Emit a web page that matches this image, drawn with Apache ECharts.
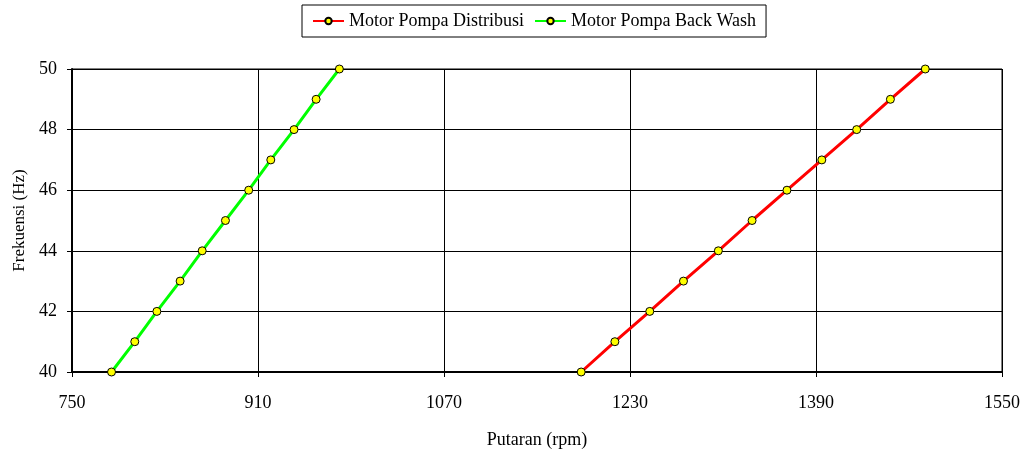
<!DOCTYPE html>
<html>
<head>
<meta charset="utf-8">
<script src="https://cdn.jsdelivr.net/npm/echarts@6/dist/echarts.min.js"></script>
<style>
  html, body { margin: 0; padding: 0; background: #fff; }
  #chart { width: 1029px; height: 454px; }
</style>
</head>
<body>
<div id="chart"></div>
<script>
// frekuensi (Hz) vs putaran (rpm)
const frekuensi = [40, 41, 42, 43, 44, 45, 46, 47, 48, 49, 50];
const rpmDistribusi = [1188, 1217, 1247, 1276, 1306, 1335, 1365, 1395, 1425, 1454, 1484];
const rpmBackWash = [784, 804, 823, 843, 862, 882, 902, 921, 941, 960, 980];
const namaSeri = ['Motor Pompa Distribusi', 'Motor Pompa Back Wash'];

const font = 'Liberation Serif';

function pasang(xs, ys) {
  return xs.map((x, i) => [x, ys[i]]);
}

let mychart = echarts.init(document.getElementById('chart'));

let option = {
  animation: false,
  textStyle: { fontFamily: font },
  legend: {
    top: 5,
    left: 302,
    data: namaSeri,
    borderColor: '#000',
    borderWidth: 1,
    borderRadius: 0,
    padding: [7, 10, 7, 10],
    itemGap: 10,
    itemWidth: 31,
    itemHeight: 8,
    textStyle: { fontFamily: font, fontSize: 18, color: '#000' }
  },
  grid: {
    left: 72,
    right: 27,
    top: 69,
    bottom: 82,
    show: true,
    borderColor: '#000',
    borderWidth: 1
  },
  xAxis: {
    type: 'value',
    min: 750,
    max: 1550,
    interval: 160,
    name: 'Putaran (rpm)',
    nameLocation: 'middle',
    nameGap: 59,
    nameTextStyle: { fontFamily: font, fontSize: 18, color: '#000' },
    axisLine: { show: true, lineStyle: { color: '#000', width: 2 } },
    axisTick: { show: true, length: 5, lineStyle: { color: '#000', width: 1 } },
    axisLabel: {
      fontFamily: font, fontSize: 18, color: '#000', margin: 22,
      formatter: v => String(v)
    },
    splitLine: { show: true, lineStyle: { color: '#000', width: 1 } }
  },
  yAxis: {
    type: 'value',
    min: 40,
    max: 50,
    interval: 2,
    name: 'Frekuensi (Hz)',
    nameLocation: 'middle',
    nameGap: 44,
    nameTextStyle: { fontFamily: font, fontSize: 17, color: '#000' },
    axisLine: { show: true, lineStyle: { color: '#000', width: 2 } },
    axisTick: { show: true, length: 5, lineStyle: { color: '#000', width: 1 } },
    axisLabel: { fontFamily: font, fontSize: 18, color: '#000', margin: 15 },
    splitLine: { show: true, lineStyle: { color: '#000', width: 1 } }
  },
  series: [
    {
      name: namaSeri[0],
      type: 'line',
      data: pasang(rpmDistribusi, frekuensi),
      symbol: 'circle',
      symbolSize: 8,
      lineStyle: { color: '#ff0000', width: 3 },
      itemStyle: { color: '#ffff00', borderColor: '#000', borderWidth: 1 }
    },
    {
      name: namaSeri[1],
      type: 'line',
      data: pasang(rpmBackWash, frekuensi),
      symbol: 'circle',
      symbolSize: 8,
      lineStyle: { color: '#00ff00', width: 3 },
      itemStyle: { color: '#ffff00', borderColor: '#000', borderWidth: 1 }
    }
  ]
};

mychart.setOption(option);
</script>
</body>
</html>
